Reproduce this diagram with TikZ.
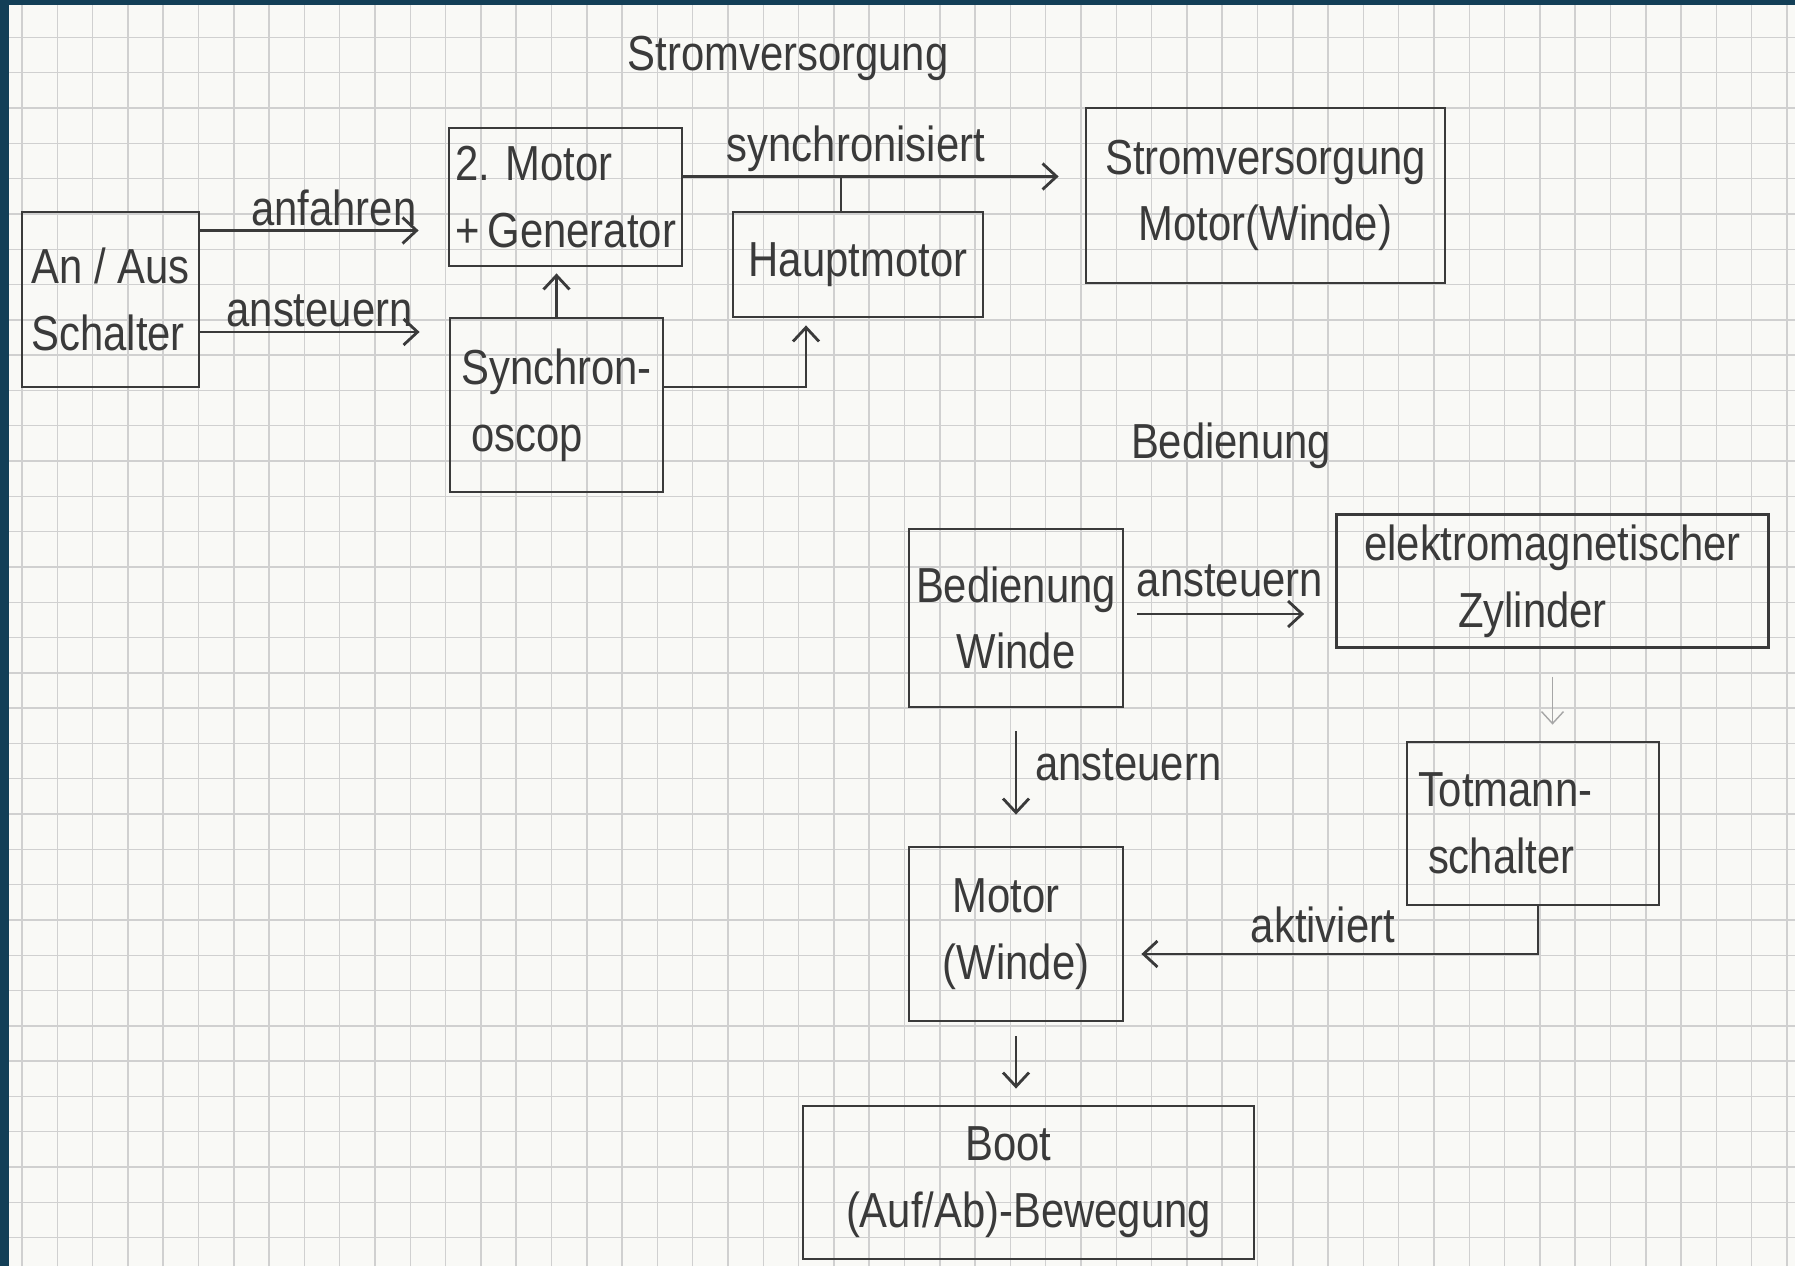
\documentclass[tikz,border=0pt]{standalone}
\usepackage{fontspec}
\setmainfont{Liberation Sans}[FakeStretch=0.85]
\usetikzlibrary{arrows.meta}
\definecolor{ink}{RGB}{58,58,58}
\definecolor{paper}{RGB}{249,249,246}
\definecolor{rule}{RGB}{208,208,208}
\definecolor{frame}{RGB}{19,63,87}
\begin{document}
\begin{tikzpicture}[
        font=\fontsize{14}{19}\selectfont,
        box/.style={draw=ink, line width=0.8pt, inner sep=0pt, text=ink},
        wire/.style={draw=ink, line width=0.8pt},
        arr/.style={wire, -{Straight Barb[length=1.4mm,width=2.6mm]}},
        faint/.style={draw=ink!45, line width=0.4pt, -{Straight Barb[length=1.2mm,width=2.2mm]}},
        lbl/.style={text=ink, inner sep=1pt}
    ]
        % paper
        \useasboundingbox (0,0) rectangle (17.95,12.66);
        \fill[paper] (0,0) rectangle (17.95,12.66);
        \draw[rule, line width=0.4pt, step=0.353, shift={(0.22,0.284)}] (-0.22,-0.284) grid (17.73,12.376);
        \fill[frame] (0,0) rectangle (0.09,12.66);
        \fill[frame] (0,12.61) rectangle (17.95,12.66);

        % Stromversorgung
        \node[lbl, anchor=base] (tstrom) at (7.88,11.95) {Stromversorgung};
        \node[box, minimum width=1.77cm, minimum height=1.75cm, align=left] (anaus) at (1.105,9.665) {An / Aus\\Schalter};
        \node[box, minimum width=2.33cm, minimum height=1.38cm, align=left] (motgen) at (5.655,10.69) {2. Motor\\+\,Generator};
        \node[box, minimum width=2.13cm, minimum height=1.74cm, align=left] (synchro) at (5.565,8.61) {Synchron-\\\hspace*{1mm}oscop};
        \node[box, minimum width=2.50cm, minimum height=1.05cm] (haupt) at (8.58,10.015) {Hauptmotor};
        \node[box, minimum width=3.59cm, minimum height=1.75cm, align=center] (strom) at (12.655,10.705) {Stromversorgung\\Motor(Winde)};

        \coordinate (anf) at (0,10.355);
        \coordinate (ans) at (0,9.34);
        \coordinate (syh) at (8.06,8.79);
        \coordinate (syn) at (8.41,10.895);

        \draw[arr, shorten >=2.9mm] (anaus.east |- anf) -- (motgen.west |- anf) node[lbl, pos=0.54, above] {anfahren};
        \draw[arr, shorten >=2.9mm] (anaus.east |- ans) -- (synchro.west |- ans) node[lbl, pos=0.48, above] {ansteuern};
        \draw[arr, shorten >=0.6mm] (synchro.north) -- (synchro.north |- motgen.south);
        \draw[arr, shorten >=0.7mm] (synchro.east |- syh) -| (syh |- haupt.south);
        \draw[arr, shorten >=2.6mm] (motgen.east |- syn) -- (strom.west |- syn) node[lbl, pos=0.43, above] {synchronisiert};
        \draw[wire] (haupt.north -| syn) -- (syn);

        % Bedienung
        \node[lbl, anchor=base] (tbed) at (12.31,8.08) {Bedienung};
        \node[box, minimum width=2.14cm, minimum height=1.78cm, align=center] (bedwinde) at (10.16,6.48) {Bedienung\\Winde};
        \node[box, minimum width=4.32cm, minimum height=1.33cm, align=center] (zylinder) at (15.525,6.85) {elektromagnetischer\\Zylinder\hspace*{4mm}};
        \node[box, minimum width=2.52cm, minimum height=1.63cm, text width=2.3cm, align=left] (totmann) at (15.33,4.425) {Totmann-\\\hspace*{1mm}schalter};
        \node[box, minimum width=2.14cm, minimum height=1.74cm, align=center] (motwinde) at (10.16,3.32) {Motor\hspace*{2mm}\\(Winde)};
        \node[box, minimum width=4.51cm, minimum height=1.53cm, align=center] (boot) at (10.285,0.835) {Boot\hspace*{4mm}\\(Auf/Ab)-Bewegung};

        \coordinate (bz) at (0,6.52);
        \coordinate (akt) at (0,3.12);

        \draw[arr, shorten <=1.3mm, shorten >=3.1mm] (bedwinde.east |- bz) -- (zylinder.west |- bz) node[lbl, midway, above=1.2mm] {ansteuern};
        \draw[arr, shorten <=2.3mm, shorten >=3.1mm] (bedwinde.south) -- (motwinde.north) node[lbl, pos=0.41, right=1.45mm] {ansteuern};
        \draw[faint, shorten <=2.8mm, shorten >=1.6mm] (zylinder.south) -- (zylinder.south |- totmann.north);
        \draw[arr, shorten >=1.7mm] ([xshift=0.5mm]totmann.south) |- (motwinde.east |- akt) node[lbl, pos=0.76, above=0.6mm] {aktiviert};
        \draw[arr, shorten <=1.4mm, shorten >=1.6mm] (motwinde.south) -- (motwinde.south |- boot.north);
    \end{tikzpicture}
\end{document}
